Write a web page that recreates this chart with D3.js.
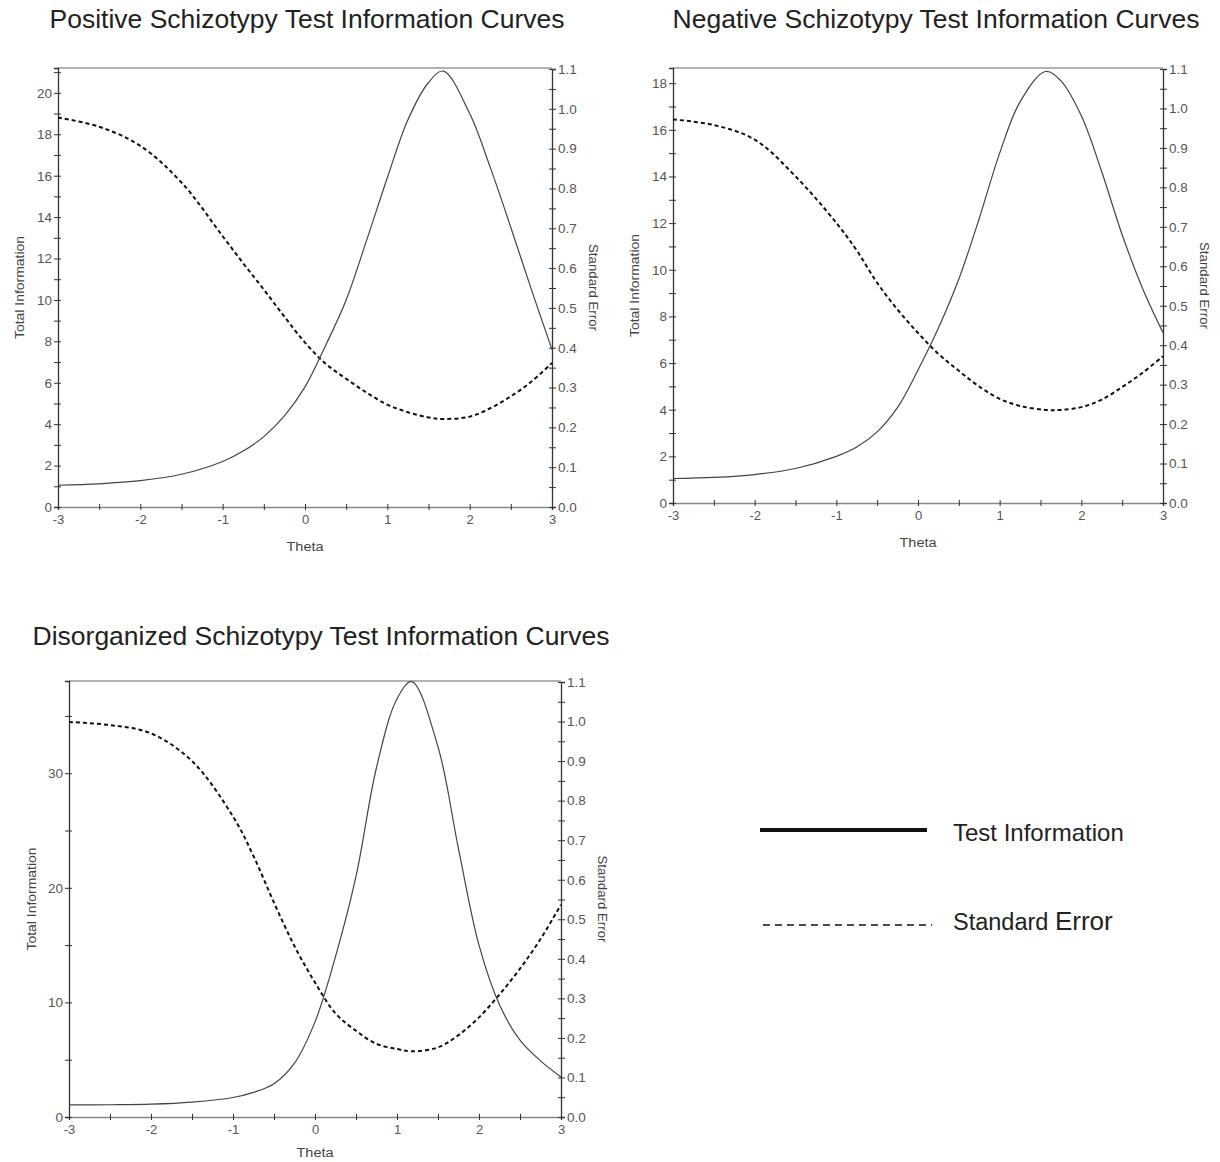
<!DOCTYPE html>
<html>
<head>
<meta charset="utf-8">
<script src="https://cdn.jsdelivr.net/npm/d3@7"></script>
<style>
  body { margin: 0; background: #fff; }
  text { font-family: "Liberation Sans", Arial, sans-serif; }
</style>
</head>
<body>
<script>
var w = 1220;
var h = 1162;

// Positive schizotypy
var theta1 = [-3, -2.5, -2, -1.5, -1, -0.75, -0.5, -0.25, 0, 0.25, 0.5, 0.75, 1, 1.25, 1.5, 1.68, 2, 2.25, 2.5, 2.75, 3];
var info1  = [1.05, 1.12, 1.27, 1.58, 2.2, 2.7, 3.4, 4.4, 5.8, 7.8, 10.0, 12.9, 15.9, 18.7, 20.5, 21.05, 19.0, 16.4, 13.5, 10.5, 7.6];
var se1    = [0.978, 0.955, 0.907, 0.815, 0.68, 0.612, 0.546, 0.478, 0.413, 0.36, 0.322, 0.287, 0.257, 0.238, 0.225, 0.221, 0.227, 0.248, 0.278, 0.315, 0.362];

// Negative schizotypy
var theta2 = [-3, -2.5, -2, -1.5, -1, -0.75, -0.5, -0.25, 0, 0.25, 0.5, 0.75, 1, 1.25, 1.56, 1.75, 2, 2.25, 2.5, 2.75, 3];
var info2  = [1.05, 1.1, 1.22, 1.48, 2.0, 2.4, 3.05, 4.1, 5.7, 7.5, 9.6, 12.2, 15.0, 17.2, 18.5, 18.1, 16.6, 14.2, 11.5, 9.2, 7.3];
var se2    = [0.972, 0.958, 0.921, 0.828, 0.71, 0.64, 0.558, 0.49, 0.431, 0.378, 0.335, 0.295, 0.264, 0.246, 0.236, 0.236, 0.243, 0.262, 0.294, 0.33, 0.372];

// Disorganized schizotypy
var theta3 = [-3, -2.5, -2, -1.5, -1, -0.75, -0.5, -0.25, 0, 0.25, 0.5, 0.75, 1, 1.18, 1.5, 1.75, 2, 2.25, 2.5, 2.75, 3];
var info3  = [1.05, 1.07, 1.12, 1.3, 1.7, 2.15, 2.9, 4.7, 8.3, 14.0, 21.0, 30.5, 36.5, 38.0, 32.3, 23.4, 15.0, 9.8, 6.7, 4.9, 3.5];
var se3    = [0.999, 0.991, 0.97, 0.9, 0.76, 0.66, 0.542, 0.432, 0.34, 0.262, 0.218, 0.185, 0.172, 0.166, 0.176, 0.207, 0.252, 0.31, 0.375, 0.45, 0.537];

var titles = ["Positive Schizotypy Test Information Curves",
              "Negative Schizotypy Test Information Curves",
              "Disorganized Schizotypy Test Information Curves"];
var legendLabels = ["Test Information", "Standard ", "Error"];

var svg = d3.select("body")
    .append("svg")
    .attr("width", w)
    .attr("height", h);

function drawPanel(p) {
    var x = d3.scaleLinear().domain([-3, 3]).range([p.left, p.right]);
    var yInfo = d3.scaleLinear().domain([0, p.infoMax]).range([p.bottom, p.top]);
    var ySE = d3.scaleLinear().domain([0, 1.1]).range([p.bottom, p.top + 1]);

    var g = svg.append("g");

    // title
    g.append("text")
        .attr("x", p.titleX)
        .attr("y", p.titleY)
        .attr("text-anchor", "middle")
        .attr("font-size", 26.5)
        .attr("fill", "#222")
        .text(p.title);

    // top border
    g.append("line")
        .attr("x1", p.left).attr("x2", p.right)
        .attr("y1", p.top).attr("y2", p.top)
        .attr("stroke", "#999").attr("stroke-width", 1.5);

    // x axis, minor ticks every 0.5
    var xMinor = d3.range(-6, 7).map(function(i) { return i / 2; });
    var xAxis = g.append("g")
        .attr("transform", "translate(0," + p.bottom + ")")
        .call(d3.axisBottom(x).tickValues(xMinor).tickSize(3).tickPadding(5)
            .tickFormat(function(d) { return Number.isInteger(d) ? d : ""; }));
    xAxis.select(".domain").attr("stroke", "#888").attr("stroke-width", 1.5);
    xAxis.selectAll(".tick line").attr("y1", -3).attr("stroke", "#333");
    xAxis.selectAll(".tick text").attr("font-size", 13).attr("fill", "#555");

    // left axis
    var leftTicks = d3.range(0, p.infoMax, p.infoMinor);
    var lAxis = g.append("g")
        .attr("transform", "translate(" + p.left + ",0)")
        .call(d3.axisLeft(yInfo).tickValues(leftTicks).tickSize(4).tickPadding(2)
            .tickFormat(function(d) { return d % p.infoMajor === 0 ? d : ""; }));
    lAxis.select(".domain").attr("stroke", "#333").attr("stroke-width", 1.3);
    lAxis.selectAll(".tick line").attr("x1", 3).attr("stroke", "#333");
    lAxis.selectAll(".tick text").attr("font-size", 13.5).attr("fill", "#555");

    // right axis
    var rightTicks = d3.range(0, 23).map(function(i) { return i / 20; });
    var rAxis = g.append("g")
        .attr("transform", "translate(" + p.right + ",0)")
        .call(d3.axisRight(ySE).tickValues(rightTicks).tickSize(4).tickPadding(2)
            .tickFormat(function(d, i) { return i % 2 === 0 ? d3.format(".1f")(d) : ""; }));
    rAxis.select(".domain").attr("stroke", "#333").attr("stroke-width", 1.3);
    rAxis.selectAll(".tick line").attr("x1", -3).attr("stroke", "#333");
    rAxis.selectAll(".tick text").attr("font-size", 13.5).attr("fill", "#555");

    // axis titles
    var midY = (p.top + p.bottom) / 2;
    g.append("text")
        .attr("transform", "translate(" + (p.left - p.labelOff) + "," + midY + ") rotate(-90)")
        .attr("text-anchor", "middle")
        .attr("font-size", 12)
        .attr("fill", "#444")
        .attr("textLength", 103)
        .attr("lengthAdjust", "spacingAndGlyphs")
        .text("Total Information");
    g.append("text")
        .attr("transform", "translate(" + (p.right + 37) + "," + midY + ") rotate(90)")
        .attr("text-anchor", "middle")
        .attr("font-size", 12)
        .attr("fill", "#444")
        .attr("textLength", 87)
        .attr("lengthAdjust", "spacingAndGlyphs")
        .text("Standard Error");
    g.append("text")
        .attr("x", x(0))
        .attr("y", p.bottom + p.thetaOff)
        .attr("text-anchor", "middle")
        .attr("font-size", 12)
        .attr("fill", "#444")
        .attr("textLength", 37)
        .attr("lengthAdjust", "spacingAndGlyphs")
        .text("Theta");

    var infoLine = d3.line()
        .x(function(d, i) { return x(p.theta[i]); })
        .y(function(d) { return yInfo(d); })
        .curve(d3.curveCatmullRom.alpha(0.5));
    var seLine = d3.line()
        .x(function(d, i) { return x(p.theta[i]); })
        .y(function(d) { return ySE(d); })
        .curve(d3.curveCatmullRom.alpha(0.5));

    g.append("path")
        .attr("d", seLine(p.se))
        .attr("fill", "none")
        .attr("stroke", "#111")
        .attr("stroke-width", 2)
        .attr("stroke-dasharray", "4,3");

    g.append("path")
        .attr("d", infoLine(p.info))
        .attr("fill", "none")
        .attr("stroke", "#444")
        .attr("stroke-width", 1.2);
}

drawPanel({ title: titles[0], titleX: 307, titleY: 28, left: 58, right: 552, top: 68, bottom: 507,
    labelOff: 34, thetaOff: 44, infoMax: 21.2, infoMinor: 1, infoMajor: 2, theta: theta1, info: info1, se: se1 });
drawPanel({ title: titles[1], titleX: 936, titleY: 28, left: 673, right: 1163, top: 68, bottom: 503,
    labelOff: 34, thetaOff: 44, infoMax: 18.65, infoMinor: 1, infoMajor: 2, theta: theta2, info: info2, se: se2 });
drawPanel({ title: titles[2], titleX: 321, titleY: 645, left: 69, right: 561, top: 681, bottom: 1117,
    labelOff: 33, thetaOff: 40, infoMax: 38.05, infoMinor: 5, infoMajor: 10, theta: theta3, info: info3, se: se3 });

// legend
var legend = svg.append("g");
legend.append("line")
    .attr("x1", 760).attr("x2", 927).attr("y1", 830).attr("y2", 830)
    .attr("stroke", "#111").attr("stroke-width", 4);
legend.append("text")
    .attr("x", 953).attr("y", 841)
    .attr("font-size", 24).attr("fill", "#222")
    .text(legendLabels[0]);
legend.append("line")
    .attr("x1", 763).attr("x2", 932).attr("y1", 925).attr("y2", 925)
    .attr("stroke", "#111").attr("stroke-width", 1.3)
    .attr("stroke-dasharray", "7,5");
var t2 = legend.append("text")
    .attr("x", 953).attr("y", 930)
    .attr("font-size", 23.5).attr("fill", "#222");
t2.append("tspan").text(legendLabels[1]);
t2.append("tspan").attr("font-size", 26).text(legendLabels[2]);
</script>
</body>
</html>
